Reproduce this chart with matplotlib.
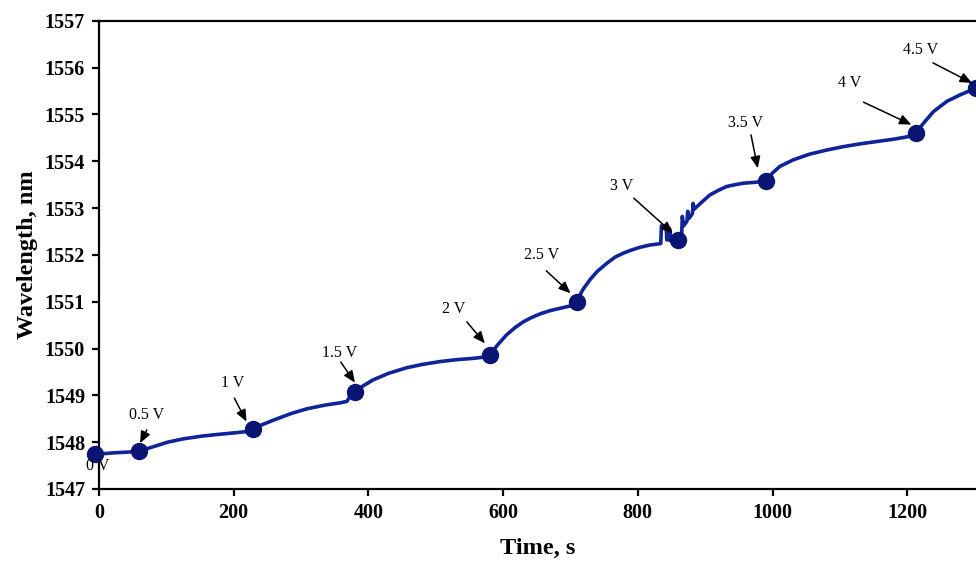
import matplotlib.pyplot as plt

plt.rcParams['font.family'] = ['Liberation Serif', 'DejaVu Serif']

# curve (time in s, wavelength in nm)
time_s = [-6, 20, 45, 60,
          80, 102, 125, 153, 180, 202, 222, 228,
          240, 259, 285, 308, 335, 358, 368, 372, 380,
          392, 407, 430, 457, 480, 506, 530, 556, 574, 580,
          592, 605, 618, 630, 642, 655, 670, 685, 700, 709,
          718, 729, 740, 754, 766, 779, 790, 803, 818, 834,
          835, 842, 843, 846, 847, 849, 860,
          865, 866, 868, 873, 874, 876, 881, 882, 884, 893,
          907, 920, 932, 945, 957, 975, 990,
          1000, 1011, 1031, 1055, 1081, 1105, 1130, 1155, 1180, 1200, 1213,
          1218, 1224, 1239, 1259, 1279, 1302]
wavelength = [1547.74, 1547.77, 1547.79, 1547.81,
              1547.90, 1548.00, 1548.07, 1548.13, 1548.17, 1548.20, 1548.23, 1548.28,
              1548.36, 1548.47, 1548.61, 1548.71, 1548.79, 1548.84, 1548.87, 1548.96, 1549.08,
              1549.20, 1549.33, 1549.47, 1549.59, 1549.66, 1549.72, 1549.76, 1549.79, 1549.82, 1549.86,
              1550.08, 1550.29, 1550.45, 1550.57, 1550.66, 1550.74, 1550.81, 1550.86, 1550.91, 1551.00,
              1551.25, 1551.47, 1551.65, 1551.82, 1551.95, 1552.04, 1552.10, 1552.16, 1552.21, 1552.24,
              1552.62, 1552.62, 1552.32, 1552.32, 1552.56, 1552.30, 1552.32,
              1552.40, 1552.82, 1552.62, 1552.72, 1552.93, 1552.78, 1552.88, 1553.10, 1552.98, 1553.10,
              1553.28, 1553.38, 1553.46, 1553.50, 1553.53, 1553.55, 1553.58,
              1553.75, 1553.89, 1554.03, 1554.15, 1554.24, 1554.31, 1554.37, 1554.42, 1554.47, 1554.52, 1554.60,
              1554.70, 1554.81, 1555.06, 1555.28, 1555.42, 1555.56]

# voltage steps
step_t = [-6, 60, 228, 380, 580, 709, 860, 990, 1213, 1302]
step_w = [1547.75, 1547.81, 1548.28, 1549.08, 1549.86, 1551.00, 1552.32, 1553.58, 1554.60, 1555.56]
step_labels = ['0 V', '0.5 V', '1 V', '1.5 V', '2 V', '2.5 V', '3 V', '3.5 V', '4 V', '4.5 V']

# where the labels sit and where their arrows run (None = no arrow)
label_pos = [(-1.5, 1547.49), (70, 1548.58), (199, 1549.27), (357, 1549.91), (527, 1550.84),
             (657, 1552.0), (776, 1553.47), (960, 1554.81), (1114, 1555.67), (1220, 1556.38)]
arrow_from = [None, (71, 1548.26), (201, 1548.94), (359, 1549.71), (546, 1550.57),
              (664, 1551.66), (794, 1553.21), (968, 1554.56), (1135, 1555.26), (1238, 1556.10)]
arrow_to = [None, (61, 1547.98), (219, 1548.44), (380, 1549.27), (573, 1550.11),
            (700, 1551.18), (852, 1552.46), (978, 1553.85), (1206, 1554.78), (1296, 1555.67)]

fig = plt.figure(figsize=(9.76, 5.62), dpi=100)
ax = fig.add_axes([0.1014, 0.1299, 0.8986, 0.8333])

ax.plot(time_s, wavelength, color='#10249a', lw=2.6, clip_on=False, zorder=3)
ax.plot(step_t, step_w, 'o', color='#0b1573', ms=11.5, clip_on=False, zorder=4)

for lab, pos, a0, a1 in zip(step_labels, label_pos, arrow_from, arrow_to):
    ax.text(pos[0], pos[1], lab, fontsize=11.5, ha='center', va='center', zorder=5)
    if a0 is not None:
        ax.annotate('', xy=a1, xytext=a0,
                    arrowprops=dict(arrowstyle='-|>,head_length=0.7,head_width=0.3',
                                    color='black', lw=1.1, shrinkA=0, shrinkB=0),
                    zorder=5)

ax.set_xlim(0, 1302)
ax.set_ylim(1547, 1557)
ax.set_xticks(range(0, 1201, 200))
ax.set_yticks(range(1547, 1558))
ax.spines['right'].set_visible(False)
for s in ['left', 'top', 'bottom']:
    ax.spines[s].set_linewidth(1.6)
ax.tick_params(direction='out', length=5, width=1.6, labelsize=14.5, pad=5)
for t in ax.get_xticklabels() + ax.get_yticklabels():
    t.set_fontweight('bold')

ax.set_xlabel('Time, s', fontsize=17.5, fontweight='bold', labelpad=11)
ax.set_ylabel('Wavelength, nm', fontsize=17.5, fontweight='bold', labelpad=5)

fig.savefig('out.png', dpi=100)
